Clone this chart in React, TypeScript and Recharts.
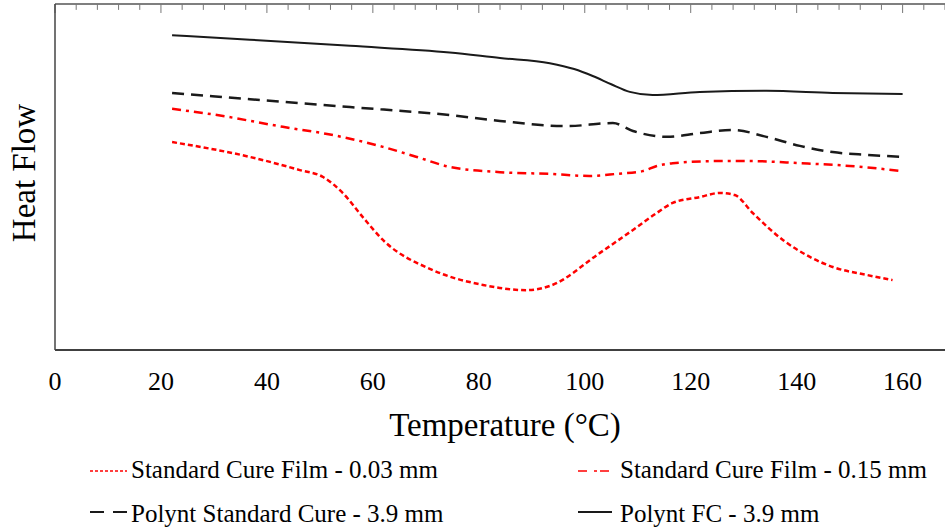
import { LineChart, Line, XAxis, YAxis, ReferenceLine } from 'recharts'

// Temperature (°C) and heat flow (arbitrary units)
const film003Temp = [22.1, 36.8, 46.2, 50.6, 54.3, 58.1, 61.9, 71.3, 80.8, 89.1, 93.4, 102.8, 109.1, 113.6, 116.6, 121.7, 125.5, 128.3, 131.7, 137.4, 142.5, 146.8, 153.2, 158.1]
const film003Heat = [60.1, 55.8, 52.0, 50.0, 45.4, 38.4, 31.8, 23.1, 18.8, 17.3, 18.5, 28.0, 34.7, 39.6, 42.5, 44.2, 45.4, 44.8, 39.6, 31.8, 26.9, 24.0, 21.7, 20.2]

const film015Temp = [22.1, 30.6, 43.0, 52.5, 61.9, 68.3, 74.5, 84.0, 93.4, 100.9, 106.0, 110.9, 113.6, 116.6, 125.5, 131.1, 140.6, 150.0, 160.0]
const film015Heat = [69.7, 67.9, 64.5, 62.1, 58.7, 55.8, 52.9, 51.4, 50.9, 50.3, 50.9, 51.7, 53.2, 54.0, 54.6, 54.6, 54.0, 53.2, 51.7]

const stdCureTemp = [22.1, 36.8, 55.7, 74.5, 84.0, 96.6, 105.3, 109.1, 115.5, 121.7, 128.0, 134.3, 140.6, 146.8, 153.2, 160.0]
const stdCureHeat = [74.3, 72.5, 70.2, 67.9, 66.2, 64.7, 65.6, 63.3, 61.6, 62.7, 63.6, 61.6, 59.0, 57.2, 56.4, 55.8]

const fcTemp = [22.1, 36.8, 55.7, 74.5, 84.0, 93.4, 98.0, 101.5, 105.0, 108.5, 112.8, 121.7, 134.3, 146.8, 160.0]
const fcHeat = [91.0, 89.7, 87.9, 86.0, 84.4, 82.9, 81.2, 79.2, 76.8, 74.6, 73.7, 74.6, 74.9, 74.3, 74.0]

const xTicks = [0, 20, 40, 60, 80, 100, 120, 140, 160]
const minorTicks = Array.from({ length: 43 }, (_, i) => i * 4)

const legendLabels = [
  'Standard Cure Film - 0.03 mm',
  'Standard Cure Film - 0.15 mm',
  'Polynt Standard Cure - 3.9 mm',
  'Polynt FC - 3.9 mm',
]

const zip = (t: number[], v: number[]) => t.map((x, i) => ({ t: x, v: v[i] }))

const FONT = '"Liberation Serif", "Times New Roman", serif'
const RED = '#ff0000'
const BLACK = '#1a1a1a'
const Y_MAX = 100

export default function App() {
  return (
    <div style={{ position: 'absolute', left: 0, top: 0, width: 945, height: 529, background: '#fff' }}>
      <LineChart width={945} height={529} margin={{ top: 4, right: 0, bottom: 178, left: 54 }}>
        <XAxis
          dataKey="t"
          type="number"
          domain={[0, 168]}
          ticks={xTicks}
          height={1}
          tickLine={false}
          tickSize={6}
          tickMargin={16}
          axisLine={{ stroke: '#000', strokeWidth: 1.5 }}
          tick={{ fontSize: 26, fill: '#000', fontFamily: FONT }}
          label={() => (
            <text x={505} y={436} textAnchor="middle" fontSize={33} fontFamily={FONT} fill="#000">
              Temperature (°C)
            </text>
          )}
        />
        <YAxis
          type="number"
          domain={[0, Y_MAX]}
          width={1}
          tick={false}
          tickLine={false}
          axisLine={{ stroke: '#444', strokeWidth: 1.5 }}
          label={() => (
            <text x={35} y={173} transform="rotate(-90 35 173)" textAnchor="middle" fontSize={33} fontFamily={FONT} fill="#000">
              Heat Flow
            </text>
          )}
        />
        {/* top frame with inward ticks, longer every 20 °C */}
        <ReferenceLine y={Y_MAX} stroke="#555" strokeWidth={1.5} ifOverflow="visible" />
        {minorTicks.map(t => (
          <ReferenceLine
            key={t}
            segment={[{ x: t, y: Y_MAX }, { x: t, y: Y_MAX - (t % 20 === 0 ? 2.6 : 1.7) }]}
            stroke="#777"
            strokeWidth={1}
            ifOverflow="visible"
          />
        ))}
        <Line data={zip(fcTemp, fcHeat)} dataKey="v" type="monotone" stroke={BLACK} strokeWidth={2} dot={false} isAnimationActive={false} />
        <Line data={zip(stdCureTemp, stdCureHeat)} dataKey="v" type="monotone" stroke={BLACK} strokeWidth={2.5} strokeDasharray="12 7" dot={false} isAnimationActive={false} />
        <Line data={zip(film015Temp, film015Heat)} dataKey="v" type="monotone" stroke={RED} strokeWidth={2.5} strokeDasharray="9 5 3 5" dot={false} isAnimationActive={false} />
        <Line data={zip(film003Temp, film003Heat)} dataKey="v" type="monotone" stroke={RED} strokeWidth={2.5} strokeDasharray="5 3" dot={false} isAnimationActive={false} />
      </LineChart>
      <svg width={945} height={89} style={{ position: 'absolute', left: 0, top: 440 }}>
        <line x1={90} x2={127} y1={31} y2={31} stroke={RED} strokeWidth={1.5} strokeDasharray="3 2" />
        <text x={131} y={38} fontSize={25} fontFamily={FONT} fill="#000">{legendLabels[0]}</text>
        <line x1={578} x2={609} y1={31} y2={31} stroke={RED} strokeWidth={1.5} strokeDasharray="9 7 3 3" />
        <text x={620} y={38} fontSize={25} fontFamily={FONT} fill="#000">{legendLabels[1]}</text>
        <line x1={90} x2={127} y1={72} y2={72} stroke={BLACK} strokeWidth={2} strokeDasharray="14 9" />
        <text x={131} y={82} fontSize={25} fontFamily={FONT} fill="#000">{legendLabels[2]}</text>
        <line x1={578} x2={612} y1={72} y2={72} stroke={BLACK} strokeWidth={2} />
        <text x={620} y={82} fontSize={25} fontFamily={FONT} fill="#000">{legendLabels[3]}</text>
      </svg>
    </div>
  )
}
